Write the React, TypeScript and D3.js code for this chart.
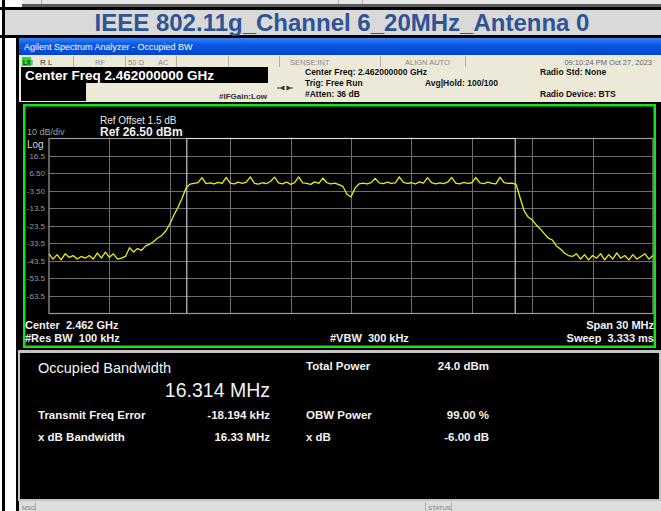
import React from 'react';
import * as d3 from 'd3';

// sweep: 151 points across the 30 MHz span (offsets from 2.462 GHz)
const spanMHz = [-15, 15];
const sweepStepMHz = 0.2;
const traceDbm = [
  -39.5, -42.5, -40, -43, -39.5, -41.5, -40.5, -42.5, -41, -42,
  -40.5, -42.5, -39, -42, -38.5, -41.5, -39.5, -42.5, -42, -41,
  -36, -38.5, -36.5, -37.5, -35, -34, -32.5, -30.5, -29, -26.5,
  -22.5, -17.5, -13, -8, -2, 0.3, 0.8, 1.2, 4.0, 0.6,
  1.0, 0.4, 1.3, 0.8, 4.2, 0.9, 0.5, 1.4, 0.7, 1.5,
  4.5, 0.8, 0.3, 1.1, 0.6, 1.8, 4.3, 1.0, 0.5, 1.5,
  0.2, 1.2, 4.4, 1.0, 0.7, 0.2, 1.6, 0.8, 3.8, 1.1,
  0.4, 0.9, 0.0, -1.0, -5.5, -7.0, -2.0, 0.5, 0.9, 0.4,
  1.2, 3.6, 1.0, 0.6, 1.5, 0.8, 1.0, 4.5, 1.3, 0.7,
  1.1, 0.4, 1.6, 0.9, 4.0, 1.2, 0.5, 1.0, 0.6, 1.4,
  4.2, 0.9, 0.5, 1.3, 0.7, 1.1, 4.1, 1.0, 0.6, 1.4,
  0.8, 0.5, 4.3, 1.2, 0.7, 0.9, 0.2, -7.5, -15, -18.5,
  -20.2, -23, -25.3, -28, -30.5, -31.6, -35, -36.8, -39, -40.5,
  -41, -39.5, -42.5, -40, -43, -40.5, -42, -39.5, -43, -40,
  -42.5, -39, -42, -40.5, -43, -40, -42.5, -41, -39.5, -42.5,
  -40.5,
];
const refLevel = 26.5;
const dbPerDiv = 10;
const yTickLabels = ['16.5', '6.50', '-3.50', '-13.5', '-23.5', '-33.5', '-43.5', '-53.5', '-63.5'];
const obwMHz = 16.314;

const font = '"Liberation Sans", Arial, sans-serif';

export default function App() {
  const x = d3.scaleLinear().domain(spanMHz).range([49, 653]);
  const y = d3.scaleLinear().domain([refLevel, refLevel - dbPerDiv * 10]).range([138.3, 313.3]);

  const line = d3.line<number>()
    .x((_, i) => x(spanMHz[0] + i * sweepStepMHz))
    .y(d => y(d));

  const xGrid = d3.range(1, 10).map(i => spanMHz[0] + i * 3);
  const yGrid = d3.range(1, 10).map(i => refLevel - i * dbPerDiv);
  const obwL = x(-obwMHz / 2);
  const obwR = x(obwMHz / 2);

  return (
    <svg width={661} height={511} style={{ position: 'absolute', left: 0, top: 0 }} fontFamily={font}>
      <defs>
        <linearGradient id="bluebar" x1="0" y1="0" x2="0" y2="1">
          <stop offset="0" stopColor="#3d84f2" />
          <stop offset="0.35" stopColor="#0b5ae6" />
          <stop offset="1" stopColor="#0046cc" />
        </linearGradient>
      </defs>
      <rect width={661} height={511} fill="#fff" />

      {/* document table frame */}
      <rect x={22} y={0} width={639} height={5} fill="#e6e6e6" />
      <rect x={22} y={4} width={639} height={3} fill="#5a5a5a" />
      <rect x={41} y={0} width={1} height={4} fill="#b0b0b0" />
      <rect x={338} y={0} width={1} height={4} fill="#b0b0b0" />
      <rect x={362} y={0} width={1} height={4} fill="#b0b0b0" />
      <rect x={0} y={7} width={661} height={3} fill="#000" />
      <rect x={3} y={10} width={658} height={25} fill="#d9d9d9" />
      <rect x={0} y={35} width={661} height={3} fill="#000" />
      <rect x={2} y={0} width={3} height={511} fill="#000" />
      <rect x={16} y={38} width={3} height={473} fill="#000" />
      <text x={342} y={31} textAnchor="middle" fontSize={24} fontWeight="bold" fill="#2f5496">
        IEEE 802.11g_Channel 6_20MHz_Antenna 0
      </text>

      {/* analyzer window title */}
      <rect x={19} y={38} width={642} height={17} fill="url(#bluebar)" />
      <text x={24} y={50} fontSize={9} fill="#fff">Agilent Spectrum Analyzer - Occupied BW</text>

      {/* status row */}
      <rect x={19} y={55} width={642} height={12} fill="#ece9d8" />
      <rect x={22} y={57} width={9} height={9} fill="#2fd62f" />
      <text x={23} y={65} fontSize={6.5} fill="#000">LXI</text>
      {[73, 125, 176, 228, 279, 380, 465].map(v => (
        <rect key={v} x={v} y={56} width={1} height={11} fill="#b5b2a5" />
      ))}
      <text x={40} y={65} fontSize={8} fill="#333">R L</text>
      <text x={95} y={65} fontSize={7.5} fill="#888">RF</text>
      <text x={128} y={65} fontSize={7.5} fill="#888">50 Ω</text>
      <text x={158} y={65} fontSize={7.5} fill="#888">AC</text>
      <text x={290} y={65} fontSize={7.5} fill="#888">SENSE:INT</text>
      <text x={405} y={65} fontSize={7.5} fill="#888">ALIGN AUTO</text>
      <text x={652} y={65} fontSize={7.5} fill="#666" textAnchor="end">09:10:24 PM Oct 27, 2023</text>

      {/* header */}
      <rect x={19} y={67} width={642} height={35} fill="#ece9d8" />
      <rect x={21} y={67} width={247} height={16} fill="#000" />
      <rect x={21} y={83} width={65} height={18} fill="#000" />
      <text x={25} y={80} fontSize={13.5} fill="#fff" fontWeight={600}>Center Freq 2.462000000 GHz</text>
      <text x={219} y={99} fontSize={8} fontWeight="bold" fill="#333">#IFGain:Low</text>
      <g stroke="#333" strokeWidth={1} fill="#333">
        <line x1={277} y1={88} x2={284} y2={88} />
        <line x1={287} y1={88} x2={293} y2={88} />
        <path d="M284,86 L284,90 L281,88 Z M287,86 L287,90 L290,88 Z" />
      </g>
      <g fontSize={8.5} fontWeight="bold" fill="#111">
        <text x={305} y={75}>Center Freq: 2.462000000 GHz</text>
        <text x={305} y={86}>Trig: Free Run</text>
        <text x={305} y={97}>#Atten: 36 dB</text>
        <text x={425} y={86}>Avg|Hold: 100/100</text>
        <text x={540} y={75}>Radio Std: None</text>
        <text x={540} y={97}>Radio Device: BTS</text>
      </g>

      {/* plot panel */}
      <rect x={19} y={102} width={642} height={248} fill="#000" />
      <rect x={24.25} y={105.25} width={630.5} height={241.5} fill="none" stroke="#18e018" strokeWidth={2.5} />

      <text x={100} y={124} fontSize={10} fill="#e8e8e8">Ref Offset 1.5 dB</text>
      <text x={100} y={136} fontSize={12} fontWeight="bold" fill="#f0f0f0">Ref 26.50 dBm</text>
      <text x={27} y={135} fontSize={9} fill="#a0a0a0">10 dB/div</text>
      <text x={27} y={147.5} fontSize={10} fill="#d8d8d8">Log</text>

      <g stroke="#6e6e6e" strokeWidth={1}>
        {yGrid.map(v => (
          <line key={v} x1={49} x2={653} y1={Math.round(y(v)) + 0.5} y2={Math.round(y(v)) + 0.5} />
        ))}
        {xGrid.map(v => (
          <line key={v} x1={Math.round(x(v)) + 0.5} x2={Math.round(x(v)) + 0.5} y1={138} y2={313} />
        ))}
      </g>
      <rect x={49} y={138.5} width={604} height={175} fill="none" stroke="#9a9a9a" strokeWidth={1.2} />
      <g stroke="#c8c8c8" strokeWidth={1.2}>
        <line x1={obwL} x2={obwL} y1={138} y2={313} />
        <line x1={obwR} x2={obwR} y1={138} y2={313} />
        <line x1={obwL} x2={obwR} y1={138.5} y2={138.5} stroke="#e0e0e0" />
      </g>
      {yTickLabels.map((t, i) => (
        <text key={t} x={45} y={y(yGrid[i]) + 3} fontSize={8} fill="#9a9a9a" textAnchor="end">{t}</text>
      ))}

      <path d={line(traceDbm) || ''} fill="none" stroke="#ecec10" strokeWidth={1.3} strokeLinejoin="round" />

      <g fontSize={11} fontWeight="bold" fill="#f2f2f2">
        <text x={25} y={329} xmlSpace="preserve">Center  2.462 GHz</text>
        <text x={25} y={342} xmlSpace="preserve">#Res BW  100 kHz</text>
        <text x={330} y={342} xmlSpace="preserve">#VBW  300 kHz</text>
        <text x={654} y={329} textAnchor="end">Span 30 MHz</text>
        <text x={654} y={342} textAnchor="end" xmlSpace="preserve">Sweep  3.333 ms</text>
      </g>

      {/* results panel */}
      <rect x={18} y={350} width={643} height={151} fill="#c4c4c4" />
      <rect x={20} y={353} width={639} height={146} fill="#000" />
      <text x={38} y={373} fontSize={14.5} fill="#f2f2f2" fontWeight={500}>Occupied Bandwidth</text>
      <text x={270} y={397} fontSize={19.5} fill="#f2f2f2" textAnchor="end">16.314 MHz</text>
      <g fontSize={11.5} fontWeight="bold" fill="#f2f2f2">
        <text x={306} y={370}>Total Power</text>
        <text x={489} y={370} textAnchor="end">24.0 dBm</text>
        <text x={38} y={419}>Transmit Freq Error</text>
        <text x={270} y={419} textAnchor="end">-18.194 kHz</text>
        <text x={306} y={419}>OBW Power</text>
        <text x={489} y={419} textAnchor="end">99.00 %</text>
        <text x={38} y={441}>x dB Bandwidth</text>
        <text x={270} y={441} textAnchor="end">16.33 MHz</text>
        <text x={306} y={441}>x dB</text>
        <text x={489} y={441} textAnchor="end">-6.00 dB</text>
      </g>

      {/* message bar */}
      <rect x={19} y={501} width={642} height={10} fill="#dedede" />
      <text x={22} y={510} fontSize={6} fill="#777">MSG</text>
      <rect x={35} y={502} width={1} height={9} fill="#aaa" />
      <rect x={425} y={502} width={1} height={9} fill="#aaa" />
      <text x={428} y={510} fontSize={6} fill="#777">STATUS</text>
      <rect x={451} y={502} width={1} height={9} fill="#aaa" />
    </svg>
  );
}
